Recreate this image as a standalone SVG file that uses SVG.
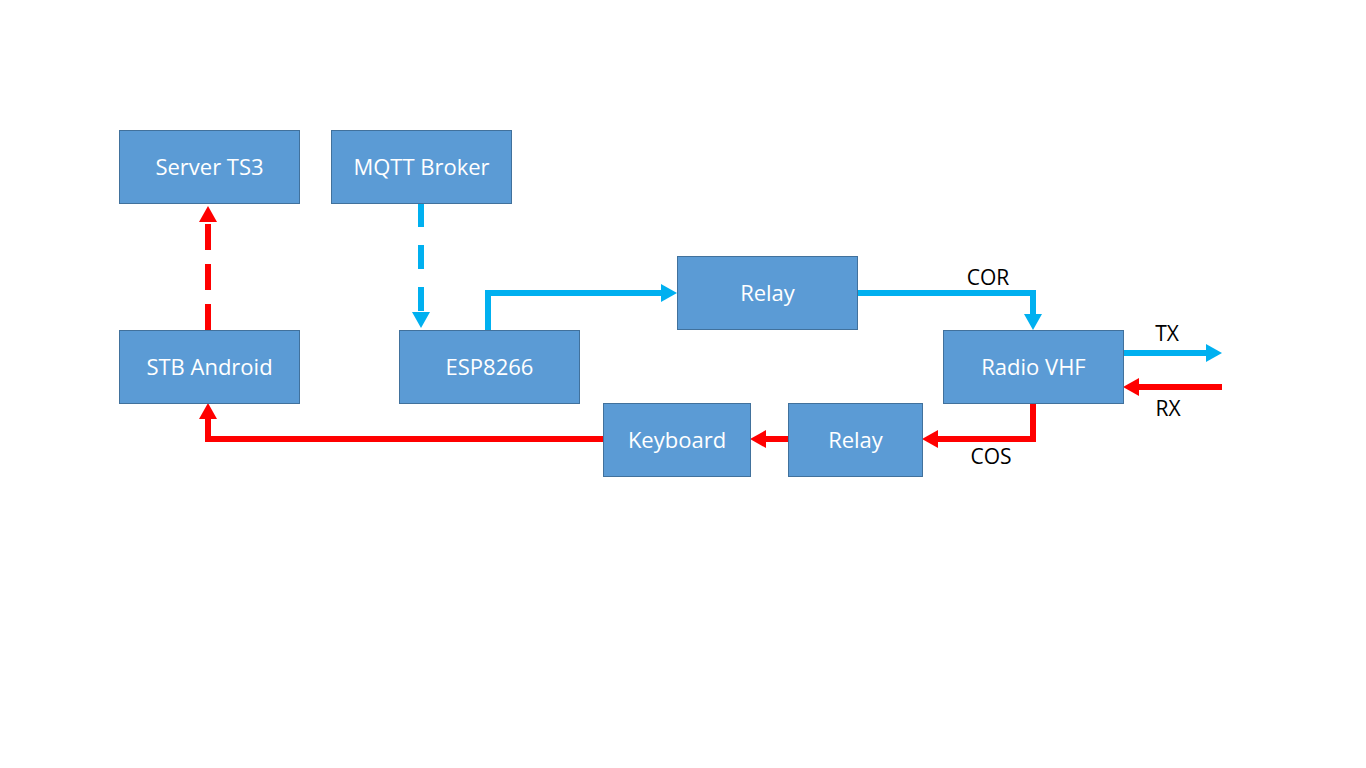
<svg xmlns="http://www.w3.org/2000/svg" width="1366" height="768" viewBox="0 0 1366 768">
<style>
.box{fill:#5B9BD5;stroke:#41719C;stroke-width:1}
.nt{fill:#fff;font-family:"Open Sans","Noto Sans",sans-serif;font-size:22px;text-anchor:middle}
.lb{fill:#000;font-family:"Open Sans","Noto Sans",sans-serif;font-size:21px;text-anchor:middle}
.blue{fill:none;stroke:#00B0F0;stroke-width:6;marker-end:url(#ab)}
.red{fill:none;stroke:#FF0000;stroke-width:6;marker-end:url(#ar)}
</style>
<defs>
<marker id="ab" viewBox="0 0 16 18" refX="0" refY="9" markerUnits="userSpaceOnUse" markerWidth="16" markerHeight="18" orient="auto"><path d="M0,0 L16,9 L0,18 z" fill="#00B0F0"/></marker>
<marker id="ar" viewBox="0 0 16 18" refX="0" refY="9" markerUnits="userSpaceOnUse" markerWidth="16" markerHeight="18" orient="auto"><path d="M0,0 L16,9 L0,18 z" fill="#FF0000"/></marker>
</defs>
<rect width="1366" height="768" fill="#fff"/>
<g id="connectors">
<path class="red" d="M208,330 V222" stroke-dasharray="26 14"/>
<path class="blue" d="M421,203 V312" stroke-dasharray="24 18"/>
<path class="blue" d="M488,330 V293 H661"/>
<path class="blue" d="M857,293 H1033 V314"/>
<path class="blue" d="M1123,353 H1206"/>
<path class="red" d="M1222,387 H1139"/>
<path class="red" d="M1033,403 V439 H938"/>
<path class="red" d="M788,439 H766"/>
<path class="red" d="M603,439 H208 V419"/>
<text class="lb" x="988" y="285">COR</text>
<text class="lb" x="1167" y="341">TX</text>
<text class="lb" x="1168" y="416">RX</text>
<text class="lb" x="991" y="464">COS</text>
</g>
<g id="server-ts3"><rect class="box" x="119.5" y="130.5" width="180" height="73"/><text class="nt" x="209.5" y="175">Server TS3</text></g>
<g id="mqtt-broker"><rect class="box" x="331.5" y="130.5" width="180" height="73"/><text class="nt" x="421.5" y="175">MQTT Broker</text></g>
<g id="stb-android"><rect class="box" x="119.5" y="330.5" width="180" height="73"/><text class="nt" x="209.5" y="375">STB Android</text></g>
<g id="esp8266"><rect class="box" x="399.5" y="330.5" width="180" height="73"/><text class="nt" x="489.5" y="375">ESP8266</text></g>
<g id="relay-top"><rect class="box" x="677.5" y="256.5" width="180" height="73"/><text class="nt" x="767.5" y="301">Relay</text></g>
<g id="radio-vhf"><rect class="box" x="943.5" y="330.5" width="180" height="73"/><text class="nt" x="1033.5" y="375">Radio VHF</text></g>
<g id="keyboard"><rect class="box" x="603.5" y="403.5" width="147" height="73"/><text class="nt" x="677" y="448">Keyboard</text></g>
<g id="relay-bottom"><rect class="box" x="788.5" y="403.5" width="134" height="73"/><text class="nt" x="855.5" y="448">Relay</text></g>
</svg>
